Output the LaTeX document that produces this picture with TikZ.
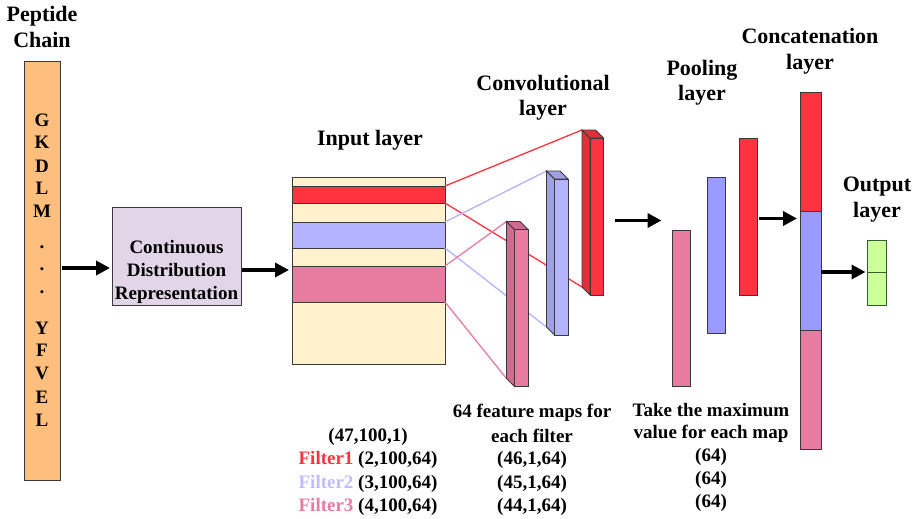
\documentclass[tikz,border=0pt]{standalone}
\usepackage{fontspec}
\setmainfont{Liberation Serif}
\usetikzlibrary{calc,arrows.meta}

\definecolor{peach}{HTML}{FDBE7E}
\definecolor{lilac}{HTML}{E1D5E7}
\definecolor{cream}{HTML}{FFF2CC}
\definecolor{fred}{HTML}{FF3440}
\definecolor{fredside}{HTML}{E2303B}
\definecolor{fblue}{HTML}{B3B3FF}
\definecolor{fblueside}{HTML}{9F9FEA}
\definecolor{pblue}{HTML}{9A9AFF}
\definecolor{fpink}{HTML}{E87CA0}
\definecolor{fpinkside}{HTML}{D06A90}
\definecolor{lgreen}{HTML}{CCFF99}
\definecolor{edge}{HTML}{3A3A3A}

\begin{document}
\begin{tikzpicture}[x=1pt,y=-1pt,
  box/.style={draw=edge,line width=0.9pt,inner sep=0pt,outer sep=0pt},
  title/.style={font=\fontsize{22}{26}\selectfont\bfseries,anchor=base,inner sep=0pt},
  lbl/.style={font=\fontsize{19}{23}\selectfont\bfseries,anchor=base,inner sep=0pt},
  arr/.style={line width=3.6pt,-{Triangle[length=14pt,width=14pt]}},
  link/.style={line width=1.3pt}]
\useasboundingbox (0,0) rectangle (914,519);

% ---- peptide chain ----
\node[title] (pt1) at (42,22) {Peptide};
\node[title] (pt2) at (42,48) {Chain};
\node[box,fill=peach,minimum width=36pt,minimum height=419pt] (pep) at (42,270.5) {};
\foreach \ch/\yy [count=\i] in {G/127,K/149,D/172,L/194,M/217,./248,./270,./293,Y/334,F/356,V/379,E/403,L/426}
  \node[lbl] (aa\i) at (42,\yy) {\ch};

% ---- continuous distribution representation ----
\node[box,fill=lilac,minimum width=129pt,minimum height=98pt] (cdr) at (176.5,256) {};
\node[lbl] (cdr1) at (176.5,253) {Continuous};
\node[lbl] (cdr2) at (176.5,276) {Distribution};
\node[lbl] (cdr3) at (176.5,299) {Representation};

\draw[arr,shorten <=2pt,shorten >=2pt] ([yshift=2.5pt]pep.east) -- ([yshift=2.5pt]pep.east -| cdr.west);

% ---- input layer ----
\node[title] (int) at (370,146) {Input layer};
\node[box,fill=cream,minimum width=153pt,minimum height=187pt] (inp) at (368.5,270.5) {};
\node[box,fill=fred,minimum width=153pt,minimum height=17pt] (bandR) at (368.5,194.5) {};
\node[box,fill=fblue,minimum width=153pt,minimum height=26pt] (bandB) at (368.5,235) {};
\node[box,fill=fpink,minimum width=153pt,minimum height=36pt] (bandP) at (368.5,284) {};

\draw[arr,shorten <=1pt,shorten >=3pt] ([yshift=-14pt]cdr.east) -- ([yshift=-14pt]cdr.east -| inp.west);

% ---- convolutional layer ----
\node[title] (ct1) at (543,91) {Convolutional};
\node[title] (ct2) at (543,116) {layer};

\coordinate (cR) at (590,138);  % front top-left corners
\coordinate (cB) at (554.5,179);
\coordinate (cP) at (514.5,229.5);
\coordinate (cRb) at ($(cR)+(-8,-8)$);
\coordinate (cBb) at ($(cB)+(-8,-8)$);
\coordinate (cPb) at ($(cP)+(-8,-8)$);
\coordinate (cRbb) at ($(cRb)+(0,157)$);
\coordinate (cBbb) at ($(cBb)+(0,156)$);
\coordinate (cPbb) at ($(cPb)+(0,157)$);

% filter windows mapped onto the feature maps
\draw[link,fred] (bandR.north east) -- (cRb);
\draw[link,fred] (bandR.south east) -- (cRbb);
\draw[link,fblue] (bandB.north east) -- (cBb);
\draw[link,fblue] (bandB.south east) -- (cBbb);
\draw[link,fpink] (bandP.north east) -- (cPb);
\draw[link,fpink] (bandP.south east) -- (cPbb);

% 3-D feature-map bars
\foreach \c/\f/\s/\h in {P/fpink/fpinkside/157,B/fblue/fblueside/156,R/fred/fredside/157}{
  \filldraw[draw=edge,line width=0.9pt,fill=\s]
    (c\c) -- ++(-8,-8) -- ++(0,\h) -- ++(8,8) -- cycle;
  \filldraw[draw=edge,line width=0.9pt,fill=\s]
    (c\c) -- ++(-8,-8) -- ++(13.5,0) -- ++(8,8) -- cycle;
  \node[box,fill=\f,minimum width=13.5pt,minimum height=\h pt,anchor=north west] (conv\c) at (c\c) {};
}

\node[lbl] (cl1) at (532,417) {64 feature maps for};
\node[lbl] (cl2) at (532,442) {each filter};
\node[lbl] (cl3) at (532,464.5) {(46,1,64)};
\node[lbl] (cl4) at (532,488) {(45,1,64)};
\node[lbl] (cl5) at (532,511) {(44,1,64)};

\node[lbl] (il1) at (368,441) {(47,100,1)};
\node[lbl] (il2) at (368,464.5) {\textcolor{fred}{Filter1} (2,100,64)};
\node[lbl] (il3) at (368,488) {\textcolor{fblue!85!white}{Filter2} (3,100,64)};
\node[lbl] (il4) at (368,511) {\textcolor{fpink}{Filter3} (4,100,64)};

% ---- pooling layer ----
\node[title] (pl1) at (702,76) {Pooling};
\node[title] (pl2) at (702,101) {layer};
\node[box,fill=fpink,minimum width=17.5pt,minimum height=156pt] (poolP) at (681.25,308.5) {};
\node[box,fill=pblue,minimum width=17.5pt,minimum height=156pt] (poolB) at (716.25,255) {};
\node[box,fill=fred,minimum width=17.5pt,minimum height=157pt] (poolR) at (748.25,216.5) {};

\draw[arr] ([xshift=11pt,yshift=-4pt]convR.east) -- ([xshift=-11pt,yshift=-4pt]convR.east -| poolP.west);

\node[lbl] (pb1) at (711,416) {Take the maximum};
\node[lbl] (pb2) at (711,438) {value for each map};
\node[lbl] (pb3) at (711,461) {(64)};
\node[lbl] (pb4) at (711,484.5) {(64)};
\node[lbl] (pb5) at (711,507.5) {(64)};

% ---- concatenation layer ----
\node[title] (kt1) at (810,44) {Concatenation};
\node[title] (kt2) at (810,70) {layer};
\node[box,fill=fred,minimum width=21pt,minimum height=119pt,anchor=north west] (catR) at (800,92) {};
\node[box,fill=pblue,minimum width=21pt,minimum height=119pt,anchor=north west] (catB) at (800,211) {};
\node[box,fill=fpink,minimum width=21pt,minimum height=119pt,anchor=north west] (catP) at (800,330) {};

\draw[arr,shorten <=2pt,shorten >=3pt] ([yshift=-2pt]poolR.east) -- ([yshift=-2pt]poolR.east -| catB.west);

% ---- output layer ----
\node[title] (ot1) at (877,191) {Output};
\node[title] (ot2) at (877,217) {layer};
\node[box,draw=edge!80!green,fill=lgreen,minimum width=18.5pt,minimum height=32.5pt,anchor=north west] (out1) at (867.5,240) {};
\node[box,draw=edge!80!green,fill=lgreen,minimum width=18.5pt,minimum height=32.5pt,anchor=north west] (out2) at (867.5,272.5) {};

\draw[arr,shorten >=2pt] ([yshift=-1.5pt]catB.east) -- ([yshift=-1.5pt]catB.east -| out1.west);
\end{tikzpicture}
\end{document}
